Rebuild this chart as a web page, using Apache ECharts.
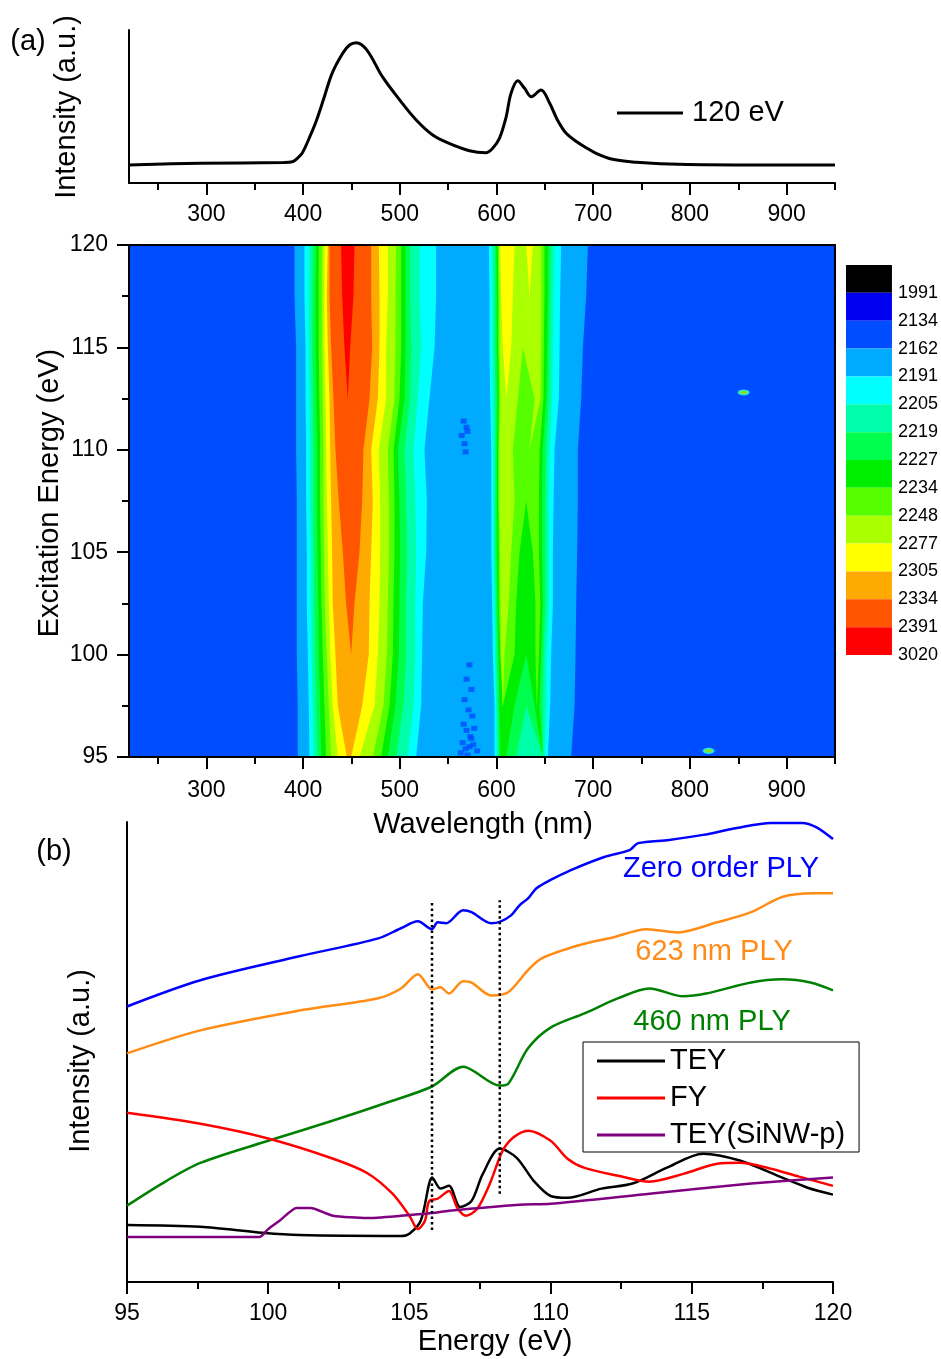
<!DOCTYPE html>
<html>
<head>
<meta charset="utf-8">
<script src="https://cdn.jsdelivr.net/npm/echarts@6/dist/echarts.min.js"></script>
<style>
html,body{margin:0;padding:0;background:#fff;}
#chart{width:941px;height:1359px;}
</style>
</head>
<body>
<div id="chart"></div>
<script>
// ================= DATA =================
// (a) top: PL spectrum at 120 eV excitation
const wavelength120 = [220,293,380,389,394,399,407,414,422,430,441,448,455,466,482,500,517,534,551,572,589,596,603,610,615,622,629,636,646,655,663,672,683,691,703,720,745,779,848,950];
const intensity120  = [11.8,12.9,13.4,13.9,16.1,19.4,30.3,41.2,56.4,71.7,84.8,90.2,91.7,86.9,69.5,54.2,41.2,31.4,25.9,21.1,19.8,22.7,29.2,43.3,58.6,66.9,61.9,56.4,60.8,52.1,41.2,32.5,27.0,23.7,19.4,15.5,13.5,12.4,11.8,11.8];

// (a) contour map: excitation energies of the traced rows (eV)
const energyRows = [95,97.5,100,102.5,105,107.5,110,112.5,115,117.5,120];
// contour boundaries (nm) around the 460 nm band, one row per energy
const bounds460 = [
  [394.5,406.6,410.7,415.2,418.7,423.8,429.0,435.9,445.2,447.3,447.3,447.3,447.3,449.7,458.3,472.1,480.7,487.6,496.2,508.3,516.9],
  [394.5,405.9,410.0,413.5,417.6,422.1,426.6,430.7,435.9,447.9,447.9,447.9,447.9,461.1,473.8,483.1,489.3,495.5,503.8,514.2,522.1],
  [393.5,404.9,409.0,412.4,416.2,420.4,424.5,428.0,433.5,449.7,449.7,449.7,449.7,467.9,477.3,486.6,492.8,499.0,506.6,516.2,523.1],
  [393.5,403.8,408.3,411.8,415.6,419.0,422.5,426.6,430.7,444.5,448.7,448.7,453.1,468.7,479.0,487.6,493.5,499.7,506.6,516.2,523.8],
  [393.5,403.8,408.0,411.4,414.9,418.3,421.8,425.6,430.0,441.1,449.7,449.7,458.3,470.4,479.7,488.7,494.5,500.4,507.3,516.9,527.3],
  [393.5,403.1,407.3,410.7,414.2,417.6,421.1,424.5,429.0,436.9,449.0,449.0,461.1,472.1,479.7,488.7,494.5,499.7,506.6,516.2,528.0],
  [392.8,403.1,407.3,410.7,414.2,417.6,421.1,423.8,428.0,433.5,447.9,447.9,462.4,470.4,478.3,487.6,493.5,498.0,504.9,514.2,525.5],
  [392.8,402.5,406.6,410.0,413.5,416.9,420.4,423.1,427.3,431.4,446.2,446.2,468.7,477.3,485.9,494.5,499.7,504.9,510.7,518.6,530.7],
  [392.8,402.5,405.9,409.3,412.8,416.2,419.7,422.1,425.6,429.0,442.8,448.7,471.4,479.0,485.9,495.5,501.4,505.9,511.8,522.1,535.9],
  [391.1,401.4,405.9,409.3,412.8,416.2,419.7,422.1,424.5,427.3,440.4,452.1,470.4,479.0,487.6,495.5,501.4,505.9,510.7,520.4,537.6],
  [391.1,401.4,406.6,410.0,413.5,416.2,419.7,422.1,425.6,427.3,439.3,453.1,470.4,478.3,487.6,496.2,501.4,505.9,510.7,520.4,537.6]
];
// contour boundaries (nm) around the 623 nm band
const bounds623 = [
  [597.9,600.3,602.4,603.8,606.5,606.5,606.5,606.5,606.5,606.5,610.0,620.3,647.9,647.9,647.9,647.9,647.9,647.9,647.9,647.9,647.9,647.9,649.6,653.1,677.2],
  [597.9,599.6,601.4,603.1,606.5,606.5,606.5,606.5,606.5,606.5,618.6,630.7,630.7,639.3,641.7,641.7,641.7,641.7,641.7,641.7,644.5,647.9,651.4,655.5,680.7],
  [596.2,598.6,600.3,602.1,603.8,604.8,606.5,606.5,608.3,618.6,630.7,630.7,630.7,630.7,640.3,641.7,641.7,641.7,641.7,643.8,646.2,648.6,651.4,656.5,681.7],
  [595.5,597.9,599.6,601.0,602.4,604.1,608.3,608.3,612.7,620.3,630.7,630.7,630.7,630.7,640.3,642.7,642.7,642.7,642.7,645.2,647.9,650.7,654.1,658.3,682.4],
  [594.5,597.2,598.9,600.3,602.1,603.8,610.0,610.0,615.2,623.8,630.7,630.7,630.7,630.7,637.6,640.3,640.3,640.3,640.3,643.8,647.2,650.7,654.1,658.3,683.4],
  [594.5,597.2,598.9,600.3,601.7,603.1,610.0,610.0,618.6,630.7,630.7,630.7,630.7,630.7,630.7,634.1,634.1,634.1,634.1,643.8,647.2,650.7,654.1,659.0,684.1],
  [594.5,596.9,598.9,600.3,601.7,603.1,610.0,610.0,616.9,630.7,630.7,630.7,630.7,630.7,630.7,634.1,634.1,634.1,634.1,644.5,647.9,651.4,654.8,660.0,684.1],
  [593.4,596.9,598.9,601.0,602.4,603.8,610.0,610.0,622.1,630.7,630.7,630.7,630.7,630.7,630.7,639.3,641.0,641.0,645.5,648.6,651.4,654.1,657.6,664.5,687.6],
  [592.7,596.2,598.3,600.3,601.7,603.1,606.5,615.2,627.2,627.2,627.2,627.2,627.2,627.2,627.2,627.2,634.1,634.1,646.2,648.9,652.4,654.8,658.3,665.2,689.3],
  [592.7,596.2,598.3,600.3,601.7,603.1,604.8,616.9,627.2,627.2,627.2,627.2,627.2,627.2,627.2,627.2,634.1,634.1,646.2,649.6,653.1,655.5,659.0,665.8,692.7],
  [592.1,595.5,597.9,599.6,601.4,602.4,603.8,618.6,624.5,624.5,624.5,624.5,624.5,624.5,624.5,624.5,630.7,637.6,646.2,649.6,653.1,656.5,660.0,666.9,694.5]
];
// contour level of each band, left to right (1 = lowest level on the colour scale)
const bandLevels = [3, 4,5,6,7,8,9,10,11,12,13,14,13,12,11,10,9,8,7,6,5, 4, 5,6,7,8,9,10,11,10,9,8,7,6,7,8,9,10,11,10,9,8,7,6,5,4, 3];
// isolated hot pixels [wavelength, energy]
const hotSpots = [[855.5,112.8],[819.3,95.3]];
// low-level speckles in the valley between the bands [wavelength, energy]
const lowSpecks = [[566,111.4],[569,111.1],[564,110.7],[567,110.3],[570,110.9],[568,109.9],
  [572,99.5],[569,98.8],[574,98.3],[567,97.8],[571,97.3],[575,97.0],[566,96.6],[569,96.3],[573,96.0],[577,96.4],
  [565,95.7],[568,95.4],[572,95.5],[576,95.6],[580,95.3],[563,95.2],[570,95.1],[574,95.9]];
// colour scale
const scaleLevels = [1,2,3,4,5,6,7,8,9,10,11,12,13,14];
const scaleLabels = ['1991','2134','2162','2191','2205','2219','2227','2234','2248','2277','2305','2334','2391','3020'];
const wlMajor = [300,400,500,600,700,800,900];
const wlMinor = [250,350,450,550,650,750,850,950];

// (b) yields vs excitation energy [eV, intensity]
const zeroOrderPLY = [[95.0,59.9],[97.6,65.6],[101.1,70.8],[103.9,74.7],[104.7,76.9],[105.3,78.4],[105.8,76.7],[106.0,78.2],[106.3,78.0],[106.9,80.8],[107.2,80.4],[107.9,78.0],[108.2,78.3],[108.6,79.7],[108.9,81.9],[109.2,83.4],[109.5,85.6],[110.0,87.4],[110.7,89.5],[111.9,92.4],[112.8,93.9],[113.1,95.4],[114.2,96.1],[115.4,97.2],[116.6,98.7],[117.8,99.8],[118.9,99.8],[119.4,98.9],[120.0,96.3]];
const ply623 = [[95.0,49.7],[97.6,54.7],[101.1,59.0],[103.9,61.7],[104.7,63.8],[105.3,66.9],[105.8,63.6],[106.1,64.1],[106.4,62.7],[106.9,65.4],[107.2,65.1],[107.9,62.3],[108.5,63.0],[109.2,67.8],[109.7,70.4],[111.0,73.2],[112.2,74.9],[113.4,76.7],[114.5,76.0],[115.9,78.2],[117.1,80.4],[118.2,83.7],[119.3,84.5],[120.0,84.5]];
const ply460 = [[95.0,16.6],[96.4,22.0],[97.6,25.9],[100.0,30.7],[102.3,35.1],[104.4,39.4],[105.8,42.5],[106.9,46.8],[108.2,42.7],[108.5,43.1],[109.2,50.8],[110.0,55.3],[111.2,58.4],[112.4,61.7],[113.5,63.8],[114.7,62.1],[115.5,62.7],[117.1,65.1],[118.2,65.8],[119.2,65.1],[120.0,63.4]];
const tey = [[95.0,12.4],[97.6,12.0],[99.8,10.7],[101.1,10.2],[104.7,10.0],[105.0,10.5],[105.4,13.3],[105.7,21.4],[105.8,22.7],[106.1,20.3],[106.4,20.9],[106.8,16.3],[107.2,17.6],[107.6,23.5],[108.2,29.0],[108.8,27.0],[109.4,22.0],[110.0,18.7],[110.6,18.3],[111.8,20.3],[112.9,21.4],[114.1,24.8],[115.4,27.9],[116.7,26.4],[118.2,22.7],[119.1,20.5],[120.0,19.0]];
const fy = [[95.0,36.8],[97.6,34.4],[100.0,31.2],[102.3,26.8],[103.5,23.7],[104.4,19.2],[105.0,14.4],[105.3,11.5],[105.55,13.3],[105.7,17.6],[106.0,18.1],[106.4,19.8],[106.7,16.1],[107.0,14.4],[107.4,15.9],[107.85,21.4],[108.3,28.5],[108.7,31.5],[109.2,32.9],[110.0,30.7],[110.6,26.8],[111.2,24.8],[112.4,23.1],[113.5,21.8],[114.7,23.5],[115.9,25.7],[116.7,25.9],[117.7,24.8],[118.8,22.9],[120.0,20.9]];
const teySiNW = [[95.0,9.8],[99.7,9.8],[100.0,11.5],[100.4,13.3],[101.0,16.1],[101.5,16.1],[102.3,14.4],[103.5,13.9],[104.7,14.4],[105.8,15.0],[106.4,15.5],[108.9,16.8],[110.0,17.0],[113.5,19.2],[117.1,21.4],[120.0,22.7]];
// dotted guide lines: energy, [bottom, top]
const guideEnergies = [105.8, 108.2];
const guideRanges = [[11.3,82.6],[19.2,83.0]];

// ================= STYLE =================
const FONT = '"Liberation Sans", Arial, Helvetica, sans-serif';
const palette = ['#000000','#0000F0','#004CFF','#00AAFF','#00FFFF','#00FFAA','#00FF4C','#00EE00','#55FF00','#AAFF00','#FFFF00','#FFAA00','#FF5500','#FF0000'];
const WL_MIN = 220, WL_MAX = 950;
const NB = bandLevels.length;

const allBounds = energyRows.map((e, r) => bounds460[r].concat(bounds623[r]));
function leftOf(r, k) { return k === 0 ? WL_MIN : allBounds[r][k - 1]; }
function rightOf(r, k) { return k === NB - 1 ? WL_MAX : allBounds[r][k]; }

// each band is drawn from its left contour to the right edge (later bands paint over),
// only over the energy runs where it actually has a width
function renderBand(params, api) {
  const k = api.value(0);
  const fill = palette[api.value(1) - 1];
  const nR = energyRows.length;
  const w = energyRows.map((e, r) => rightOf(r, k) - leftOf(r, k));
  const children = [];
  let s = 0;
  while (s < nR - 1) {
    if (w[s] > 0 || w[s + 1] > 0) {
      let e = s;
      while (e < nR - 1 && (w[e] > 0 || w[e + 1] > 0)) e++;
      const pts = [];
      for (let r = s; r <= e; r++) pts.push(api.coord([leftOf(r, k), energyRows[r]]));
      for (let r = e; r >= s; r--) pts.push(api.coord([WL_MAX, energyRows[r]]));
      children.push({ type: 'polygon', shape: { points: pts }, style: { fill: fill } });
      s = e;
    } else {
      s++;
    }
  }
  return { type: 'group', children: children };
}

function renderSwatch(params, api) {
  const i = api.value(2);
  const p0 = api.coord([0, i - 1]);
  const p1 = api.coord([1, i]);
  return {
    type: 'rect',
    shape: { x: Math.min(p0[0], p1[0]), y: Math.min(p0[1], p1[1]), width: Math.abs(p1[0] - p0[0]), height: Math.abs(p1[1] - p0[1]) },
    style: { fill: palette[i - 1] }
  };
}

const axisLineStyle = { color: '#000', width: 2 };
const tickLabel = { color: '#000', fontSize: 23, fontFamily: FONT };

function textEl(x, y, text, color, rot, size) {
  return {
    type: 'text', x: x, y: y, rotation: rot || 0, z: 100,
    style: {
      text: text, fill: color, fontSize: size || 29, fontFamily: FONT,
      align: 'center', verticalAlign: 'middle', textAlign: 'center', textVerticalAlign: 'middle'
    }
  };
}

const chart = echarts.init(document.getElementById('chart'), null, { renderer: 'canvas' });

const option = {
  animation: false,
  backgroundColor: '#ffffff',
  grid: [
    { left: 129, top: 30, width: 706, height: 153 },
    { left: 129, top: 245, width: 706, height: 512 },
    { left: 127, top: 822, width: 706, height: 460 },
    { left: 846, top: 265, width: 47, height: 390 }
  ],
  xAxis: [
    { // 0 top panel major
      type: 'value', gridIndex: 0, min: WL_MIN, max: WL_MAX, position: 'bottom',
      axisLine: { show: true, lineStyle: axisLineStyle },
      axisTick: { show: true, length: 12, lineStyle: { color: '#000', width: 2 }, customValues: wlMajor },
      axisLabel: Object.assign({ margin: 20, customValues: wlMajor }, tickLabel),
      splitLine: { show: false }
    },
    { // 1 top panel minor
      type: 'value', gridIndex: 0, min: WL_MIN, max: WL_MAX, position: 'bottom',
      axisLine: { show: false },
      axisTick: { show: true, length: 7, lineStyle: { color: '#000', width: 2 }, customValues: wlMinor },
      axisLabel: { show: false }, splitLine: { show: false }
    },
    { // 2 map major
      type: 'value', gridIndex: 1, min: WL_MIN, max: WL_MAX, position: 'bottom', z: 5,
      axisLine: { show: true, lineStyle: axisLineStyle },
      axisTick: { show: true, length: 12, lineStyle: { color: '#000', width: 2 }, customValues: wlMajor },
      axisLabel: Object.assign({ margin: 22, customValues: wlMajor }, tickLabel),
      splitLine: { show: false }
    },
    { // 3 map minor
      type: 'value', gridIndex: 1, min: WL_MIN, max: WL_MAX, position: 'bottom', z: 5,
      axisLine: { show: false },
      axisTick: { show: true, length: 7, lineStyle: { color: '#000', width: 2 }, customValues: wlMinor },
      axisLabel: { show: false }, splitLine: { show: false }
    },
    { // 4 map top border
      type: 'value', gridIndex: 1, min: WL_MIN, max: WL_MAX, position: 'top', z: 5,
      axisLine: { show: true, lineStyle: axisLineStyle },
      axisTick: { show: false }, axisLabel: { show: false }, splitLine: { show: false }
    },
    { // 5 bottom panel
      type: 'value', gridIndex: 2, min: 95, max: 120, interval: 5, position: 'bottom',
      axisLine: { show: true, lineStyle: axisLineStyle },
      axisTick: { show: true, length: 12, lineStyle: { color: '#000', width: 2 } },
      minorTick: { show: true, splitNumber: 2, length: 7, lineStyle: { color: '#000', width: 2 } },
      axisLabel: Object.assign({ margin: 20 }, tickLabel),
      splitLine: { show: false }, minorSplitLine: { show: false }
    },
    { // 6 colour scale
      type: 'value', gridIndex: 3, min: 0, max: 1, show: false
    }
  ],
  yAxis: [
    { // 0 top panel
      type: 'value', gridIndex: 0, min: 0, max: 100,
      axisLine: { show: true, lineStyle: axisLineStyle },
      axisTick: { show: false }, axisLabel: { show: false }, splitLine: { show: false }
    },
    { // 1 map energy
      type: 'value', gridIndex: 1, min: 95, max: 120, interval: 5, position: 'left', z: 5,
      axisLine: { show: true, lineStyle: axisLineStyle },
      axisTick: { show: true, length: 12, lineStyle: { color: '#000', width: 2 } },
      minorTick: { show: true, splitNumber: 2, length: 7, lineStyle: { color: '#000', width: 2 } },
      axisLabel: Object.assign({ margin: 21 }, tickLabel),
      splitLine: { show: false }, minorSplitLine: { show: false }
    },
    { // 2 map right border
      type: 'value', gridIndex: 1, min: 95, max: 120, position: 'right', z: 5,
      axisLine: { show: true, lineStyle: axisLineStyle },
      axisTick: { show: false }, axisLabel: { show: false }, splitLine: { show: false }
    },
    { // 3 bottom panel
      type: 'value', gridIndex: 2, min: 0, max: 100,
      axisLine: { show: true, lineStyle: axisLineStyle },
      axisTick: { show: false }, axisLabel: { show: false }, splitLine: { show: false }
    },
    { // 4 colour scale
      type: 'value', gridIndex: 3, min: 0, max: 14, interval: 1, inverse: true, position: 'right',
      axisLine: { show: false }, axisTick: { show: false }, splitLine: { show: false },
      axisLabel: {
        show: true, margin: 6, color: '#000', fontSize: 18, fontFamily: FONT,
        formatter: function (v) { return v >= 1 ? scaleLabels[Math.round(v) - 1] : ''; }
      }
    }
  ],
  legend: [
    {
      data: ['120 eV'], left: 617, top: 98, padding: 0, orient: 'horizontal',
      icon: 'rect', itemWidth: 66, itemHeight: 3,
      textStyle: { color: '#000', fontSize: 29, fontFamily: FONT, lineHeight: 30, padding: [0, 0, 0, 4] }
    },
    {
      data: ['TEY', 'FY', 'TEY(SiNW-p)'], left: 583, top: 1042, orient: 'vertical',
      padding: [4, 14, 2, 14], itemGap: 7, borderColor: '#000', borderWidth: 1,
      icon: 'rect', itemWidth: 68, itemHeight: 3,
      textStyle: { color: '#000', fontSize: 29, fontFamily: FONT, lineHeight: 30 }
    }
  ],
  graphic: [
    textEl(28, 42, '(a)', '#000'),
    textEl(67, 107, 'Intensity (a.u.)', '#000', Math.PI / 2),
    textEl(50, 493, 'Excitation Energy (eV)', '#000', Math.PI / 2),
    textEl(483, 825, 'Wavelength (nm)', '#000'),
    textEl(54, 852, '(b)', '#000'),
    textEl(81, 1061, 'Intensity (a.u.)', '#000', Math.PI / 2),
    textEl(495, 1342, 'Energy (eV)', '#000'),
    textEl(721, 869, 'Zero order PLY', '#0000FF'),
    textEl(714, 952, '623 nm PLY', '#FF8C1A'),
    textEl(712, 1022, '460 nm PLY', '#008000')
  ],
  series: [
    {
      name: '120 eV', type: 'line', xAxisIndex: 0, yAxisIndex: 0,
      data: wavelength120.map((w, i) => [w, intensity120[i]]),
      showSymbol: false, smooth: 0.35, lineStyle: { color: '#000', width: 3 }, itemStyle: { color: '#000' }
    },
    {
      name: 'map', type: 'custom', xAxisIndex: 2, yAxisIndex: 1, clip: true, z: 1,
      renderItem: renderBand,
      data: bandLevels.map((lvl, k) => [k, lvl])
    },
    {
      name: 'specks', type: 'scatter', xAxisIndex: 2, yAxisIndex: 1, z: 2,
      data: lowSpecks, symbol: 'rect', symbolSize: [6, 5],
      itemStyle: { color: palette[2] }
    },
    {
      name: 'spots', type: 'scatter', xAxisIndex: 2, yAxisIndex: 1, z: 2,
      data: hotSpots, symbol: 'circle', symbolSize: [10, 5],
      itemStyle: { color: '#AAFF00', borderColor: '#00FFFF', borderWidth: 1.5 }
    },
    {
      name: 'scale', type: 'custom', xAxisIndex: 6, yAxisIndex: 4,
      renderItem: renderSwatch,
      data: scaleLevels.map(l => [0.5, l - 0.5, l])
    },
    { name: 'Zero order PLY', type: 'line', xAxisIndex: 5, yAxisIndex: 3, data: zeroOrderPLY, showSymbol: false, smooth: 0.3, lineStyle: { color: '#0000FF', width: 2.5 }, itemStyle: { color: '#0000FF' } },
    { name: '623 nm PLY', type: 'line', xAxisIndex: 5, yAxisIndex: 3, data: ply623, showSymbol: false, smooth: 0.3, lineStyle: { color: '#FF8C14', width: 2.5 }, itemStyle: { color: '#FF8C14' } },
    { name: '460 nm PLY', type: 'line', xAxisIndex: 5, yAxisIndex: 3, data: ply460, showSymbol: false, smooth: 0.3, lineStyle: { color: '#008000', width: 2.5 }, itemStyle: { color: '#008000' } },
    { name: 'TEY', type: 'line', xAxisIndex: 5, yAxisIndex: 3, data: tey, showSymbol: false, smooth: 0.3, lineStyle: { color: '#000000', width: 2.5 }, itemStyle: { color: '#000000' } },
    { name: 'FY', type: 'line', xAxisIndex: 5, yAxisIndex: 3, data: fy, showSymbol: false, smooth: 0.3, lineStyle: { color: '#FF0000', width: 2.5 }, itemStyle: { color: '#FF0000' } },
    { name: 'TEY(SiNW-p)', type: 'line', xAxisIndex: 5, yAxisIndex: 3, data: teySiNW, showSymbol: false, smooth: 0.2, lineStyle: { color: '#800080', width: 2.5 }, itemStyle: { color: '#800080' } },
    {
      name: 'guide1', type: 'line', xAxisIndex: 5, yAxisIndex: 3,
      data: guideRanges[0].map(v => [guideEnergies[0], v]),
      showSymbol: false, lineStyle: { color: '#000', width: 2.5, type: [2.5, 3] }
    },
    {
      name: 'guide2', type: 'line', xAxisIndex: 5, yAxisIndex: 3,
      data: guideRanges[1].map(v => [guideEnergies[1], v]),
      showSymbol: false, lineStyle: { color: '#000', width: 2.5, type: [2.5, 3] }
    }
  ]
};

chart.setOption(option);
</script>
</body>
</html>
